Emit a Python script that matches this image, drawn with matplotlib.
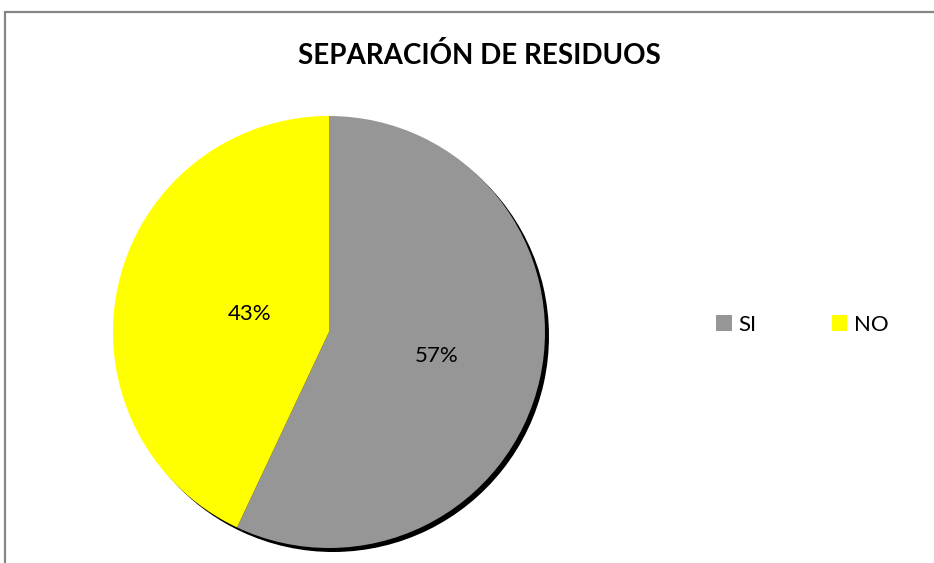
import matplotlib
matplotlib.use('Agg')
import matplotlib.pyplot as plt
import numpy as np
from matplotlib.patches import Rectangle, Patch

# data
labels = ["SI", "NO"]
values = [57, 43]
colors = ["#969696", "#ffff00"]
label_dist = [0.51, 0.375]

plt.rcParams['font.family'] = ['Lato', 'DejaVu Sans']

fig = plt.figure(figsize=(9.34, 5.63), dpi=100)
W, H = 934, 563

# outer chart frame (right/bottom edges run off the image)
fig.patches.append(Rectangle((5 / W, -0.05), 1.0, (563 - 12) / H + 0.05,
                             transform=fig.transFigure, fill=False,
                             edgecolor="#868686", linewidth=1.6))

fig.text(479 / W, 1 - 55 / H, "SEPARACIÓN DE RESIDUOS", ha="center", va="center",
         fontsize=20, fontweight="bold")

# pie axes, radius 216 px, centre (329, 332)
cx, cy, r = 329, 332, 216
ax = fig.add_axes([(cx - r) / W, (H - cy - r) / H, 2 * r / W, 2 * r / H])
ax.axis("off")

# hard black shadow offset down-right
off = 4.0 / r
shadow, _ = ax.pie(values, colors=["black", "black"], startangle=90,
                   counterclock=False, center=(off, -off))
for w in shadow:
    w.set_clip_on(False)
    w.set_zorder(0)

wedges, _ = ax.pie(values, colors=colors, startangle=90, counterclock=False)
for w in wedges:
    w.set_clip_on(False)
    w.set_zorder(1)

ax.set_xlim(-1, 1)
ax.set_ylim(-1, 1)
ax.set_aspect("equal")

for w, v, d in zip(wedges, values, label_dist):
    mid = np.deg2rad((w.theta1 + w.theta2) / 2)
    ax.text(d * np.cos(mid), d * np.sin(mid), f"{v}%", ha="center", va="center",
            fontsize=16, zorder=3)

handles = [Patch(facecolor=c, edgecolor="none") for c in colors]
fig.legend(handles, labels, loc="center left", bbox_to_anchor=(716 / W, 1 - 325 / H),
           ncol=2, frameon=False, fontsize=16, handlelength=0.7, handleheight=0.7,
           handletextpad=0.3, columnspacing=3.4, borderaxespad=0, borderpad=0)

fig.savefig("out.png", dpi=100)
